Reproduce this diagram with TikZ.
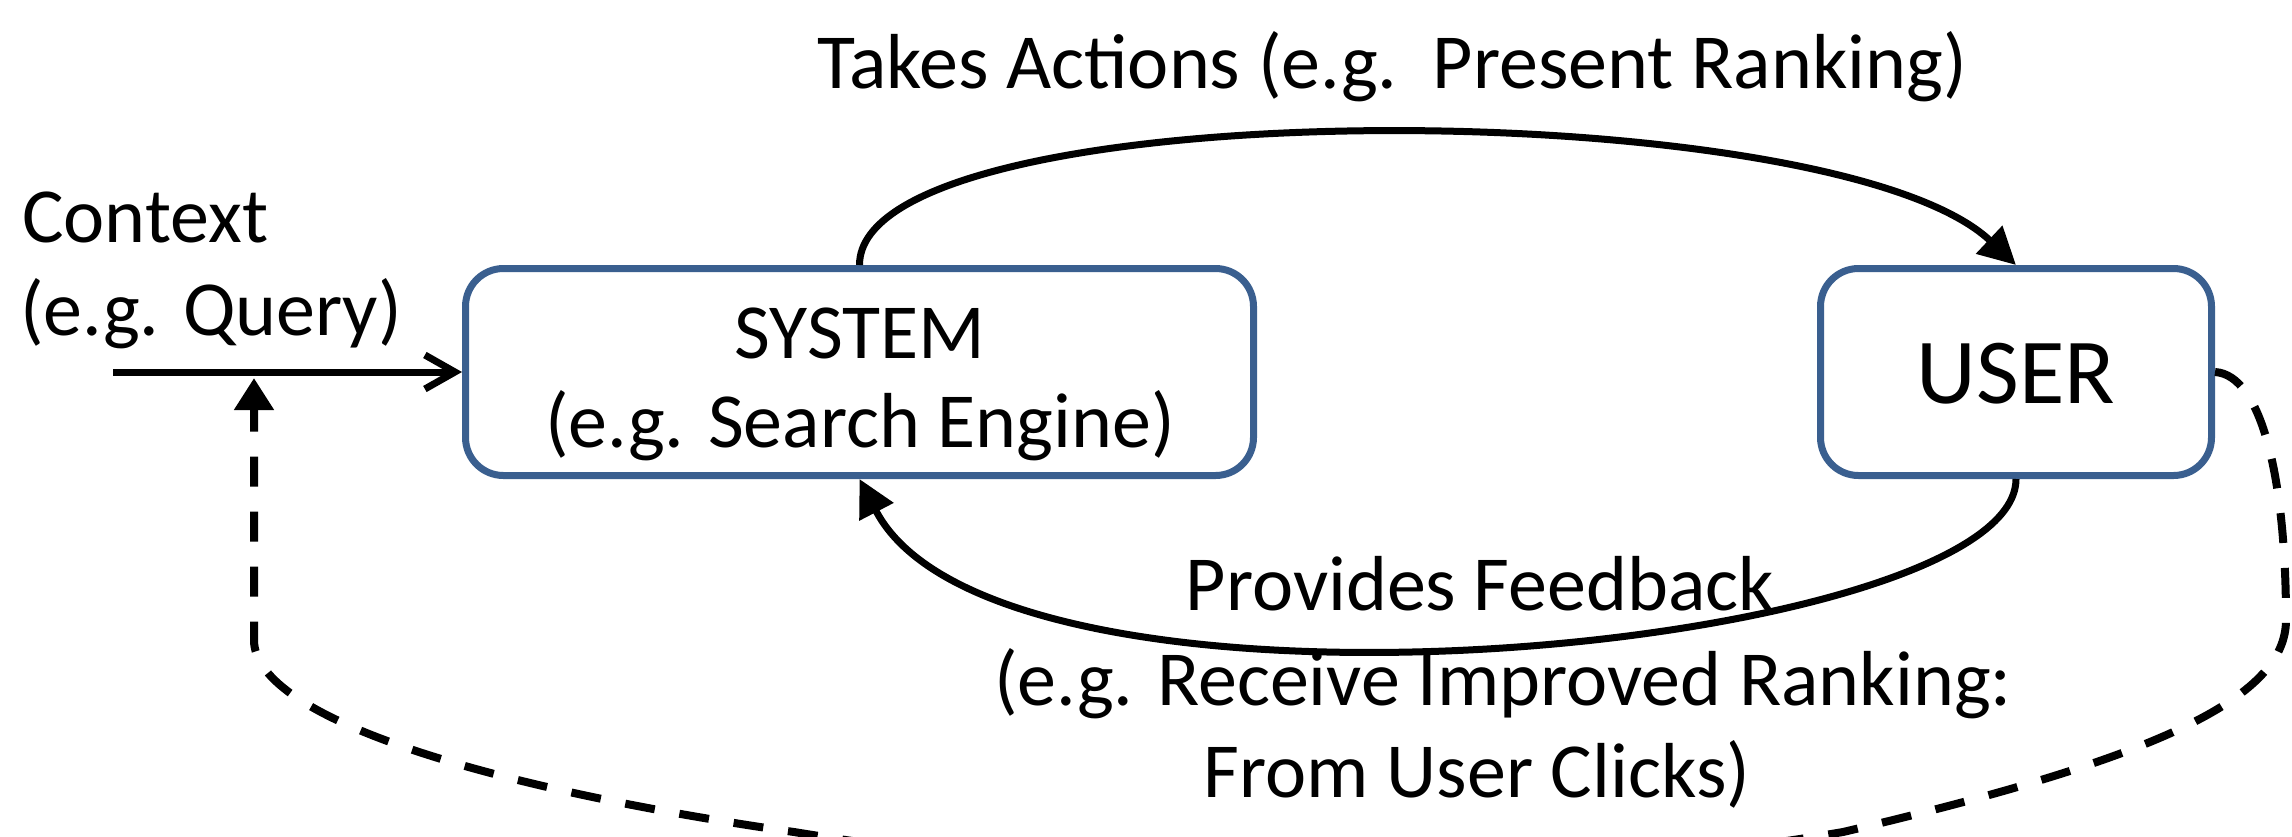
\documentclass[tikz,border=0pt]{standalone}
\usepackage{fontspec}
\setmainfont{Carlito}
\usetikzlibrary{arrows.meta}
\definecolor{boxblue}{HTML}{3A5F8F}
\begin{document}
\begin{tikzpicture}[x=1pt,y=-1pt]
\tikzset{
  box/.style={draw=boxblue, line width=7pt, rounded corners=38pt, fill=white, minimum height=207pt, inner sep=0pt},
  lbl/.style={font=\fontsize{78}{93}\selectfont, inner sep=0pt, anchor=base},
  conn/.style={line width=7pt, draw=black},
  tri/.style={-{Triangle[length=37pt,width=37pt]}},
}
\useasboundingbox (0,0) rectangle (2292,836);
\node[box, minimum width=788pt] (sys) at (859.5,372) {};
\node[box, minimum width=391pt] (user) at (2016,372) {};

\node[lbl] (systxt1) at (860,358) {SYSTEM};
\node[lbl] (systxt2) at (860,447) {(e.g. Search Engine)};
\node[lbl, font=\fontsize{93}{110}\selectfont] (usertxt) at (2016,403) {USER};

\node[lbl] (toptxt) at (1392,88) {Takes Actions (e.g.\ \ Present Ranking)};
\node[lbl, anchor=base west] (ctx1) at (22,242) {Context};
\node[lbl, anchor=base west] (ctx2) at (20,335) {(e.g. Query)};
\node[lbl] (fb1) at (1480,610) {Provides Feedback};
\node[lbl] (fb2) at (1503,705) {(e.g. Receive Improved Ranking:};
\node[lbl] (fb3) at (1477,797) {From User Clicks)};

\coordinate (ctxstart) at (113,372);
\coordinate (fbin) at (254,378);

\draw[conn, -{Straight Barb[length=30pt,width=34pt]}] (ctxstart) -- (sys.west);
\draw[conn, tri] (sys.north) .. controls (859.5,90) and (1830,90) .. (user.north);
\draw[conn, tri] (user.south) .. controls (2016,650) and (1000,750) .. (sys.south);
\draw[conn, line width=8pt, dash pattern=on 30pt off 25pt, -{Triangle[length=32pt,width=38pt]}]
  (user.east) .. controls (2262,375) and (2286,480) .. (2286,620)
  .. controls (2286,700) and (2150,760) .. (1843,832)
  .. controls (1500,890) and (1150,890) .. (794,832)
  .. controls (500,790) and (254,720) .. (254,640) -- (fbin);
\end{tikzpicture}
\end{document}
